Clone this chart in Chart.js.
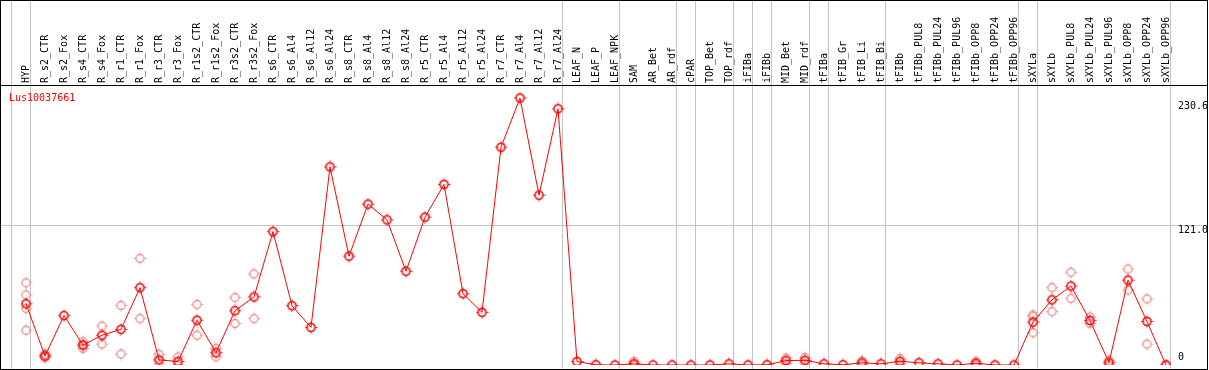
<!DOCTYPE html>
<html><head><meta charset="utf-8">
<script src="https://cdn.jsdelivr.net/npm/chart.js@4/dist/chart.umd.min.js"></script>
<style>html,body{margin:0;padding:0;background:#fff;overflow:hidden}canvas{display:block}</style>
</head><body>
<canvas id="c" width="1209" height="370"></canvas>
<script>
const categories = ["HYP","R_s2_CTR","R_s2_Fox","R_s4_CTR","R_s4_Fox","R_r1_CTR","R_r1_Fox","R_r3_CTR","R_r3_Fox","R_r1s2_CTR","R_r1s2_Fox","R_r3s2_CTR","R_r3s2_Fox","R_s6_CTR","R_s6_Al4","R_s6_Al12","R_s6_Al24","R_s8_CTR","R_s8_Al4","R_s8_Al12","R_s8_Al24","R_r5_CTR","R_r5_Al4","R_r5_Al12","R_r5_Al24","R_r7_CTR","R_r7_Al4","R_r7_Al12","R_r7_Al24","LEAF_N","LEAF_P","LEAF_NPK","SAM","AR_Bet","AR_rdf","cPAR","TOP_Bet","TOP_rdf","iFIBa","iFIBb","MID_Bet","MID_rdf","tFIBa","tFIB_Gr","tFIB_Li","tFIB_Bi","tFIBb","tFIBb_PUL8","tFIBb_PUL24","tFIBb_PUL96","tFIBb_OPP8","tFIBb_OPP24","tFIBb_OPP96","sXYLa","sXYLb","sXYLb_PUL8","sXYLb_PUL24","sXYLb_PUL96","sXYLb_OPP8","sXYLb_OPP24","sXYLb_OPP96"];
const meanValues = [52.9,7.8,42.7,17.2,25.7,30.8,66.8,4.4,3.0,38.7,10.6,46.9,58.8,115.2,51.2,32.5,171.1,94.0,139.0,125.4,81.0,127.7,156.0,61.6,45.5,188.1,230.6,146.7,221.3,3.0,0.2,0.0,1.0,0.0,0.0,0.0,0.0,1.0,0.0,0.2,3.8,4.1,1.0,0.2,1.9,1.0,3.2,1.9,1.0,0.0,1.5,0.0,0.0,37.0,56.3,68.2,38.4,2.0,73.3,37.6,0.0];
const replicates = [[71.0,60.6,48.9,30.0],[9.5,6.4,7.6],[],[20.0,14.3,17.2],[33.6,18.0],[51.4,9.5],[92.0,40.1],[9.2,0],[7.0,0],[52.3,25.7],[14.3,7.0],[58.2,35.9],[78.7,40.1],
  [],[],[],[],[],[],[],[],[],[],[],[],[],[],[],[],
  [],[],[],[3.0,0],[],[],[],[],[],[],[],[6.0,1.5],[6.5,1.7],[],[],[3.5,0.3],[],[5.5,0.9],[],[],[],[3.0,0],[],[],
  [43.2,42.1,27.9],[66.8,46.1],[80.1,57.4],[41.5,35.9],[4.0,0],[82.9,64.8],[57.1,18.0],[0]];
const yTicks = [0, 121.0, 230.6];
const yTickLabels = ["0", "121.0", "230.6"];
const groupBoundaries = [-1,0,28,31,34,35,37,38,39,41,42,45,52,53,60];
const geneName = "Lus10037661";

const MONO = '"DejaVu Sans Mono", "Liberation Mono", monospace';

function marker(color, r, lw) {
  const s = 2 * r + 5, m = s / 2;
  const c = document.createElement('canvas'); c.width = s; c.height = s;
  const g = c.getContext('2d');
  g.strokeStyle = color; g.lineWidth = lw;
  g.beginPath(); g.arc(m, m, r, 0, Math.PI * 2); g.stroke();
  g.lineWidth = 1; g.beginPath();
  g.moveTo(m, m - r - 2); g.lineTo(m, m - r);
  g.moveTo(m, m + r); g.lineTo(m, m + r + 2);
  g.moveTo(m - r - 2, m); g.lineTo(m - r, m);
  g.moveTo(m + r, m); g.lineTo(m + r + 2, m);
  g.stroke();
  return c;
}
const meanMarker = marker('#ff0000', 4, 1.6);
const repMarker = marker('rgb(236,146,146)', 4, 1.4);

const repData = [];
replicates.forEach((arr, i) => arr.forEach(v => repData.push({x: categories[i], y: v})));

const decor = {
  id: 'decor',
  beforeDatasetsDraw(chart) {
    const {ctx, scales: {x, y}} = chart;
    ctx.save();
    ctx.strokeStyle = '#c4c4c4'; ctx.lineWidth = 1;
    ctx.beginPath();
    for (const b of groupBoundaries) {
      const px = Math.round(x.getPixelForValue(b) + 4) + 0.5;
      ctx.moveTo(px, 0); ctx.lineTo(px, 369);
    }
    const gy = Math.round(y.getPixelForValue(yTicks[1])) + 0.5;
    ctx.moveTo(0, gy); ctx.lineTo(1207, gy);
    ctx.stroke();
    ctx.restore();
  },
  afterDraw(chart) {
    const {ctx, chartArea, scales: {y}} = chart;
    ctx.save();
    ctx.font = '10px ' + MONO;
    ctx.fillStyle = '#ff0000'; ctx.textAlign = 'left'; ctx.textBaseline = 'alphabetic';
    ctx.fillText(geneName, 9, 101);
    ctx.fillStyle = '#000'; ctx.textBaseline = 'top';
    yTicks.forEach((v, i) => {
      const py = y.getPixelForValue(v);
      const ty = Math.min(Math.max(py, chartArea.top + 15), chartArea.bottom - 12.5);
      ctx.fillText(yTickLabels[i], 1178, ty);
    });
    ctx.strokeStyle = '#000'; ctx.lineWidth = 1;
    ctx.beginPath();
    ctx.moveTo(0, 0.5); ctx.lineTo(1208, 0.5);
    ctx.moveTo(0, 85.5); ctx.lineTo(1208, 85.5);
    ctx.moveTo(0, 369.5); ctx.lineTo(1208, 369.5);
    ctx.moveTo(0.5, 0); ctx.lineTo(0.5, 370);
    ctx.moveTo(1207.5, 0); ctx.lineTo(1207.5, 370);
    ctx.stroke();
    ctx.restore();
  }
};

new Chart(document.getElementById('c'), {
  type: 'line',
  data: {
    labels: categories,
    datasets: [
      {label: 'mean', data: meanValues, borderColor: '#ff0000', borderWidth: 1, tension: 0,
       pointStyle: meanMarker, pointRadius: 4, pointHoverRadius: 4, backgroundColor: 'transparent', fill: false},
      {label: 'replicates', data: repData, showLine: false, pointStyle: repMarker, pointRadius: 4,
       borderColor: 'rgb(236,146,146)', backgroundColor: 'transparent'}
    ]
  },
  options: {
    responsive: false, animation: false,
    layout: {padding: {left: 26, right: 43, top: 0, bottom: 0.5}},
    plugins: {legend: {display: false}, tooltip: {enabled: false}},
    scales: {
      x: {
        position: 'top', offset: false,
        grid: {display: false, drawTicks: false, tickLength: 0}, border: {display: false},
        ticks: {autoSkip: false, minRotation: 90, maxRotation: 90, padding: 3, labelOffset: 12, color: '#000',
                font: {family: MONO, size: 10}},
        afterFit(s) { s.height = 86; }
      },
      y: {display: false, min: 0, max: 241}
    }
  },
  plugins: [decor]
});
</script>
</body></html>
